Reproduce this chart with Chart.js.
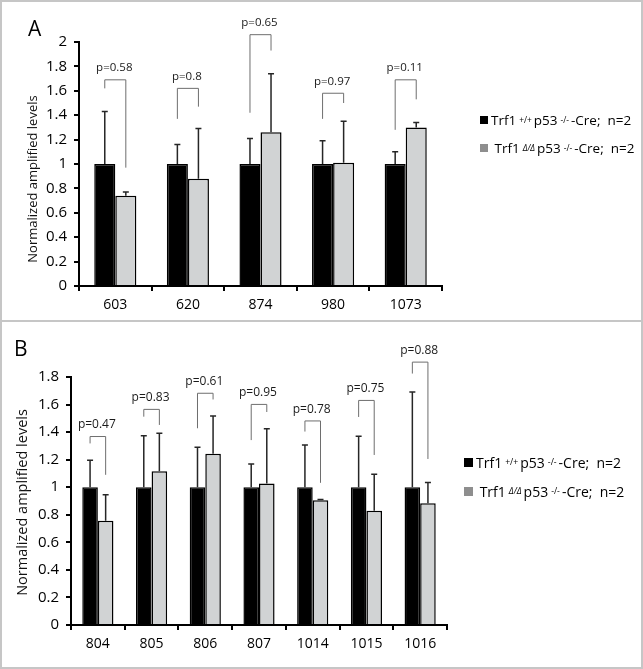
<!DOCTYPE html>
<html>
<head>
<meta charset="utf-8">
<script src="https://cdn.jsdelivr.net/npm/chart.js@4.4.1/dist/chart.umd.min.js"></script>
<style>
  body { margin: 0; background: #fff; font-family: 'Open Sans', sans-serif; }
  #fig { position: relative; width: 643px; height: 669px; }
  .panel { position: absolute; left: 0; width: 643px; box-sizing: border-box; border: 2px solid #c6c6c6; }
  #panelA { top: 0; height: 322px; }
  #panelB { top: 320px; height: 349px; }
  canvas { position: absolute; left: 0; }
  .tag { position: absolute; font-size: 21px; line-height: 21px; color: #000; }
  .leg { position: absolute; display: flex; align-items: center; height: 18px; white-space: nowrap; color: #000; }
  .leg .sw { display: inline-block; margin-right: 3px; }
  .leg sup { font-size: 0.62em; vertical-align: 0.5em; line-height: 0; margin: 0 2px 0 3px; }
</style>
</head>
<body>
<div id="fig">
  <div class="panel" id="panelA"></div>
  <div class="panel" id="panelB"></div>
  <canvas id="chartA" width="643" height="321" style="top:0"></canvas>
  <canvas id="chartB" width="643" height="348" style="top:321px"></canvas>
  <div class="tag" style="left:28px; top:18px">A</div>
  <div class="tag" style="left:14px; top:338px">B</div>

  <div class="leg" style="left:480px; top:111px; font-size:13.5px">
    <span class="sw" style="width:8px;height:8px;background:#000"></span>Trf1<sup>+/+</sup>p53<sup>-/-</sup>-Cre;&nbsp; n=2
  </div>
  <div class="leg" style="left:480px; top:139px; font-size:13.5px">
    <span class="sw" style="width:8px;height:8px;background:#8e8e8e"></span>&nbsp;Trf1<sup><i>&Delta;/&Delta;</i></sup>p53<sup>-/-</sup>-Cre;&nbsp; n=2
  </div>
  <div class="leg" style="left:464px; top:453px; font-size:14px">
    <span class="sw" style="width:9px;height:9px;background:#000"></span>Trf1<sup>+/+</sup>p53<sup>-/-</sup>-Cre;&nbsp; n=2
  </div>
  <div class="leg" style="left:464px; top:482px; font-size:14px">
    <span class="sw" style="width:9px;height:9px;background:#8e8e8e"></span>&nbsp;Trf1<sup><i>&Delta;/&Delta;</i></sup>p53<sup>-/-</sup>-Cre;&nbsp; n=2
  </div>
</div>

<script>
// Panel A data
const catsA = ['603', '620', '874', '980', '1073'];
const ctrlA = [1, 1, 1, 1, 1];
const ctrlErrA = [0.43, 0.16, 0.21, 0.19, 0.10];
const mutA = [0.74, 0.88, 1.26, 1.01, 1.30];
const mutErrA = [0.03, 0.41, 0.48, 0.34, 0.04];
const pA = ['p=0.58', 'p=0.8', 'p=0.65', 'p=0.97', 'p=0.11'];
const brTopA = [1.69, 1.62, 2.06, 1.58, 1.69];
const brLeftA = [1.62, 1.37, 1.42, 1.37, 1.28];
const brRightA = [0.97, 1.47, 1.93, 1.50, 1.53];

// Panel B data
const catsB = ['804', '805', '806', '807', '1014', '1015', '1016'];
const ctrlB = [1, 1, 1, 1, 1, 1, 1];
const ctrlErrB = [0.195, 0.373, 0.291, 0.169, 0.306, 0.37, 0.692];
const mutB = [0.756, 1.116, 1.243, 1.027, 0.905, 0.83, 0.883];
const mutErrB = [0.19, 0.276, 0.274, 0.398, 0.005, 0.264, 0.151];
const pB = ['p=0.47', 'p=0.83', 'p=0.61', 'p=0.95', 'p=0.78', 'p=0.75', 'p=0.88'];
const brTopB = [1.368, 1.565, 1.682, 1.601, 1.481, 1.630, 1.908];
const brLeftB = [1.318, 1.512, 1.428, 1.342, 1.404, 1.51, 1.825];
const brRightB = [1.09, 1.452, 1.637, 1.546, 1.032, 1.234, 1.205];

const FONT = "'Open Sans', sans-serif";
const yTitle = 'Normalized amplified levels';

// Error bars, significance brackets and the rotated axis title
function makeMarks(cfg) {
  return {
    id: 'marks',
    afterDatasetsDraw(chart) {
      const ctx = chart.ctx;
      const y = chart.scales.y;
      const ctrlBars = chart.getDatasetMeta(0).data;
      const mutBars = chart.getDatasetMeta(1).data;
      ctx.save();

      ctx.strokeStyle = '#262626';
      ctx.lineWidth = 1.5;
      [[ctrlBars, cfg.ctrl, cfg.ctrlErr], [mutBars, cfg.mut, cfg.mutErr]].forEach(([bars, vals, errs]) => {
        bars.forEach((bar, i) => {
          const yTop = y.getPixelForValue(vals[i] + errs[i]);
          ctx.beginPath();
          ctx.moveTo(bar.x, bar.y);
          ctx.lineTo(bar.x, yTop);
          ctx.moveTo(bar.x - 3, yTop);
          ctx.lineTo(bar.x + 3, yTop);
          ctx.stroke();
        });
      });

      ctx.strokeStyle = '#6e6e6e';
      ctx.lineWidth = 1;
      ctx.fillStyle = '#1a1a1a';
      ctx.font = cfg.pSize + 'px ' + FONT;
      ctx.textAlign = 'center';
      ctx.textBaseline = 'middle';
      cfg.labels.forEach((lab, i) => {
        const xl = ctrlBars[i].x;
        const xr = mutBars[i].x;
        const yt = y.getPixelForValue(cfg.top[i]);
        ctx.beginPath();
        ctx.moveTo(xl, y.getPixelForValue(cfg.left[i]));
        ctx.lineTo(xl, yt);
        ctx.lineTo(xr, yt);
        ctx.lineTo(xr, y.getPixelForValue(cfg.right[i]));
        ctx.stroke();
        ctx.fillText(lab, (xl + xr) / 2 - 1, yt - cfg.textGap);
      });

      ctx.fillStyle = '#111';
      ctx.font = cfg.titleSize + 'px ' + FONT;
      ctx.translate(cfg.titleX, cfg.titleY);
      ctx.rotate(-Math.PI / 2);
      ctx.fillText(yTitle, 0, 0);
      ctx.restore();
    }
  };
}

function makeChart(id, cats, ctrl, mut, o) {
  return new Chart(document.getElementById(id), {
    type: 'bar',
    data: {
      labels: cats,
      datasets: [
        { data: ctrl, backgroundColor: '#000', borderColor: '#000', borderWidth: 1.5 },
        { data: mut, backgroundColor: '#d1d3d4', borderColor: '#000', borderWidth: 1.5 }
      ]
    },
    options: {
      responsive: false,
      animation: false,
      categoryPercentage: 0.58,
      barPercentage: 1,
      layout: { padding: o.padding },
      plugins: { legend: { display: false }, tooltip: { enabled: false } },
      scales: {
        x: {
          grid: { drawOnChartArea: false, color: '#000', lineWidth: 2, tickLength: 5 },
          border: { color: '#000', width: 2 },
          ticks: { color: '#000', font: { family: FONT, size: o.xSize }, padding: 6, autoSkip: false, maxRotation: 0 },
          afterFit: s => { s.height = o.xHeight; }
        },
        y: {
          min: 0, max: o.max,
          grid: { drawOnChartArea: false, color: '#000', lineWidth: 2, tickLength: 5 },
          border: { color: '#000', width: 2 },
          ticks: {
            stepSize: 0.2, color: '#000', font: { family: FONT, size: o.ySize }, padding: 7,
            callback: v => String(+v.toFixed(1))
          },
          afterFit: s => { s.width = o.yWidth; }
        }
      }
    },
    plugins: [makeMarks(o.marks)]
  });
}

makeChart('chartA', catsA, ctrlA, mutA, {
  max: 2,
  padding: { left: 25, right: 201, top: 42, bottom: 0 },
  yWidth: 54, xHeight: 35, xSize: 14, ySize: 15,
  marks: {
    ctrl: ctrlA, ctrlErr: ctrlErrA, mut: mutA, mutErr: mutErrA,
    labels: pA, top: brTopA, left: brLeftA, right: brRightA,
    pSize: 11.5, textGap: 12, titleSize: 13, titleX: 33, titleY: 179
  }
});

makeChart('chartB', catsB, ctrlB, mutB, {
  max: 1.8,
  padding: { left: 14, right: 196, top: 56, bottom: 0 },
  yWidth: 57, xHeight: 44, xSize: 14, ySize: 15,
  marks: {
    ctrl: ctrlB, ctrlErr: ctrlErrB, mut: mutB, mutErr: mutErrB,
    labels: pB, top: brTopB, left: brLeftB, right: brRightB,
    pSize: 12, textGap: 11.5, titleSize: 14.5, titleX: 23, titleY: 181.5
  }
});
</script>
</body>
</html>
